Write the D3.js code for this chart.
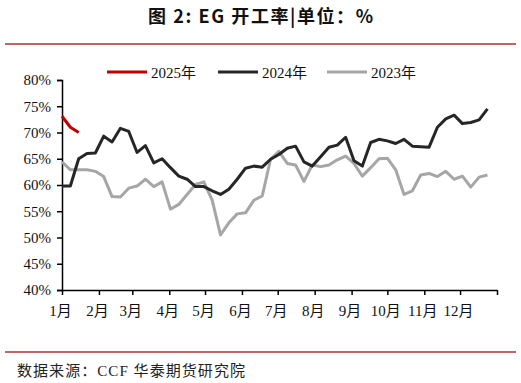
<!DOCTYPE html>
<html><head><meta charset="utf-8">
<script src="https://cdn.jsdelivr.net/npm/d3@7"></script>
<style>
body{margin:0;background:#fff;}
svg{display:block;}
</style></head>
<body><svg id="c" width="521" height="383"></svg>
<script>
// ---- data ----
const seriesNames = ["2025年", "2024年", "2023年"];
const seriesColors = ["#c00000", "#262626", "#a6a6a6"];
const monthLabels = ["1月","2月","3月","4月","5月","6月","7月","8月","9月","10月","11月","12月",""];
const yTicks = [40,45,50,55,60,65,70,75,80];
const values2025 = [73.1, 71.0, 70.0];
const values2024 = [59.8,59.8,65.0,66.0,66.1,69.3,68.2,70.8,70.2,66.2,67.5,64.2,65.0,63.3,61.7,61.1,59.7,59.7,58.9,58.2,
  59.2,61.1,63.2,63.6,63.4,64.9,65.8,67.0,67.4,64.4,63.6,65.4,67.2,67.6,69.1,64.6,63.6,68.1,68.7,68.4,
  67.9,68.7,67.4,67.3,67.2,71.0,72.6,73.3,71.7,71.9,72.4,74.5];
const values2023 = [64.4,62.9,62.9,62.9,62.6,61.6,57.8,57.7,59.4,59.8,61.1,59.7,60.6,55.4,56.3,58.2,60.1,60.6,57.1,50.5,
  52.8,54.5,54.7,57.1,57.9,64.9,66.4,64.1,63.8,60.7,63.8,63.5,63.8,64.8,65.5,64.1,61.7,63.3,65.0,65.1,
  62.9,58.2,58.9,61.9,62.2,61.6,62.6,61.1,61.7,59.6,61.5,61.9];

const svg = d3.select("#c");
const W = 521, H = 383;

// title
svg.append("text").attr("x", 148).attr("y", 23)
  .attr("font-family", "'Noto Sans CJK SC', sans-serif").attr("font-weight", "bold")
  .attr("font-size", 18).attr("fill", "#111")
  .attr("textLength", 225).attr("lengthAdjust", "spacing")
  .text("图 2: EG 开工率|单位：%");

// rules
[44, 352].forEach(y => svg.append("line").attr("x1", 5).attr("x2", 516).attr("y1", y).attr("y2", y)
  .attr("stroke", "#c06666").attr("stroke-width", 2));

// source
svg.append("text").attr("x", 17).attr("y", 376)
  .attr("font-family", "'Liberation Serif', 'Noto Sans CJK SC', serif")
  .attr("font-size", 15).attr("fill", "#222")
  .attr("textLength", 228).attr("lengthAdjust", "spacing")
  .text("数据来源：CCF  华泰期货研究院");

// scales
const x0 = new Date(2023, 0, 1), x1 = new Date(2024, 0, 1);
const x = d3.scaleTime().domain([x0, x1]).range([62, 497]);
const y = d3.scaleLinear().domain([40, 80]).range([290, 80]);
const weekDate = i => new Date(2023, 0, 1 + 7 * i);

const fontSerif = "'Liberation Serif', 'Times New Roman', 'Noto Sans CJK SC', serif";

// y axis
const yAxis = d3.axisLeft(y).tickValues(yTicks).tickFormat(d => d + "%").tickSize(5).tickPadding(6);
const gy = svg.append("g").attr("transform", "translate(62,0)").call(yAxis);
gy.select(".domain").attr("stroke", "#000").attr("stroke-width", 1.5);
gy.selectAll(".tick line").attr("stroke", "#000").attr("stroke-width", 1.5);
gy.selectAll("text").attr("font-family", fontSerif).attr("font-size", 15).attr("fill", "#111");

// x axis
const monthTicks = d3.range(13).map(m => new Date(2023, m, 1));
const xAxis = d3.axisBottom(x).tickValues(monthTicks)
  .tickFormat((d, i) => monthLabels[i]).tickSize(5).tickPadding(10).tickSizeOuter(0);
const gx = svg.append("g").attr("transform", "translate(0,290)").call(xAxis);
gx.select(".domain").attr("stroke", "#000").attr("stroke-width", 1.5);
gx.selectAll(".tick line").attr("stroke", "#000").attr("stroke-width", 1.5);
gx.selectAll("text").attr("font-family", fontSerif).attr("font-size", 15).attr("fill", "#111")
  .attr("dx", "-2");

// lines
const line = d3.line().x((d, i) => x(weekDate(i))).y(d => y(d));
const data = [values2023, values2024, values2025];
const colors = [seriesColors[2], seriesColors[1], seriesColors[0]];
data.forEach((vals, k) => {
  svg.append("path").datum(vals).attr("d", line)
    .attr("fill", "none").attr("stroke", colors[k]).attr("stroke-width", 3)
    .attr("stroke-linejoin", "round");
});

// legend
const legendX = [107, 218, 327];
seriesNames.forEach((n, i) => {
  const g = svg.append("g").attr("transform", `translate(${legendX[i]},72)`);
  g.append("line").attr("x1", 0).attr("x2", 40).attr("stroke", seriesColors[i]).attr("stroke-width", 3);
  g.append("text").attr("x", 44).attr("y", 5.5).attr("font-family", fontSerif)
    .attr("font-size", 15).attr("fill", "#111").text(n);
});
</script>
</body></html>
